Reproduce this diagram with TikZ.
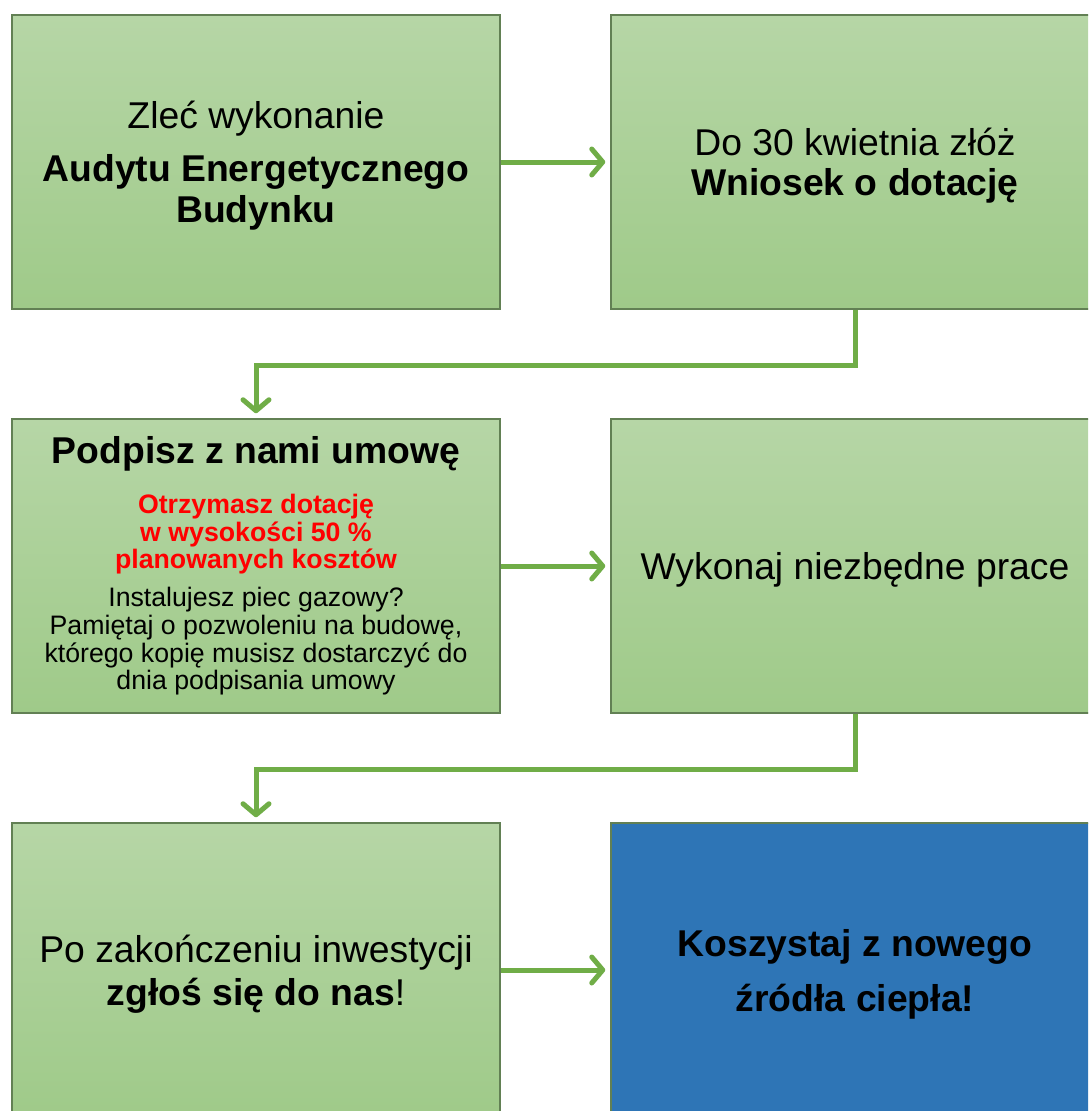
\documentclass[tikz,border=0pt]{standalone}
\usepackage{fontspec}
\setmainfont{Liberation Sans}
\usetikzlibrary{arrows.meta}
\definecolor{boxtop}{RGB}{182,214,166}
\definecolor{boxbot}{RGB}{159,202,137}
\definecolor{boxline}{RGB}{98,128,84}
\definecolor{flowgreen}{RGB}{112,173,71}
\definecolor{bluefill}{RGB}{46,117,182}
\newcommand{\bigtxt}{\fontsize{37.3}{43}\selectfont}
\newcommand{\smalltxt}{\fontsize{26.7}{27.7}\selectfont}
\tikzset{
  plainbox/.style={draw=boxline, line width=1.5pt, minimum width=488pt,
    minimum height=294pt, inner sep=0pt, align=center, font=\bigtxt,
    text depth=0pt},
  stepbox/.style={plainbox, top color=boxtop, bottom color=boxbot},
  endbox/.style={plainbox, fill=bluefill},
  flow/.style={draw=flowgreen, line width=5pt,
    -{Straight Barb[length=11pt,width=26pt,round]}, shorten >=5pt}
}
\begin{document}
\begin{tikzpicture}[x=1pt,y=-1pt]
  \path[use as bounding box] (0,0) rectangle (1088,1111);
  \clip (0,0) rectangle (1088,1111);
  % first row
  \node[stepbox] (audyt) at (256,162) {Zleć wykonanie\\[10pt]
    \textbf{Audytu Energetycznego}\\[-2pt] \textbf{Budynku}};
  \node[stepbox] (wniosek) at (855,162) {Do 30 kwietnia złóż\\[-3pt]
    \textbf{Wniosek o dotację}};
  % second row
  \node[stepbox, text depth={}, text width=480pt, align=flush center]
    (umowa) at (256,566) {%
    {\bfseries Podpisz z nami umowę\par}\vspace{22pt}
    {\smalltxt\bfseries\color{red}Otrzymasz dotację\\ w wysokości 50 \%\\
     planowanych kosztów\par}\vspace{10pt}
    {\smalltxt Instalujesz piec gazowy?\\ Pamiętaj o pozwoleniu na budowę,\\
     którego kopię musisz dostarczyć do\\ dnia podpisania umowy\par}};
  \node[stepbox] (prace) at (855,566) {Wykonaj niezbędne prace};
  % third row
  \node[stepbox] (zglos) at (256,970) {Po zakończeniu inwestycji\\
    \textbf{zgłoś się do nas}!};
  \node[endbox] (zrodlo) at (855,970) {\textbf{Koszystaj z nowego}\\[12pt]
    \textbf{źródła ciepła!}};
  % connectors
  \draw[flow] (audyt.east) -- (wniosek.west);
  \draw[flow] (wniosek.south) -- ++(0,56) -| (umowa.north);
  \draw[flow] (umowa.east) -- (prace.west);
  \draw[flow] (prace.south) -- ++(0,56) -| (zglos.north);
  \draw[flow] (zglos.east) -- (zrodlo.west);
\end{tikzpicture}
\end{document}
